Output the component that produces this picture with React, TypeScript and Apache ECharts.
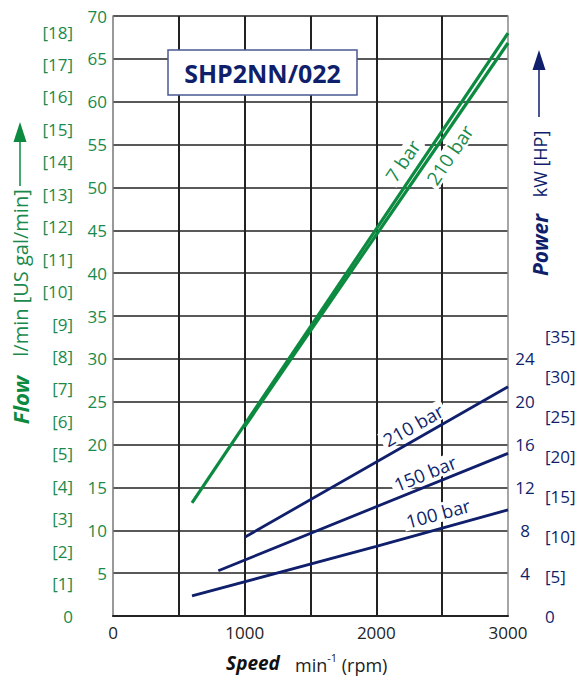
import React, { useEffect, useRef } from "react";
import * as echarts from "echarts";

// ---- data ----
const speedRange = [0, 3000];
const flowRange = [0, 70];
const kwRange = [0, 56];
const LPM_PER_GAL = 3.785;
const KW_PER_HP = 0.7457;

const flow7bar = [
  [600, 13.2],
  [3000, 68.0],
];
const flow210bar = [
  [1000, 22.1],
  [3000, 66.85],
];
const power210bar = [
  [1000, 7.35],
  [3000, 21.4],
];
const power150bar = [
  [800, 4.23],
  [3000, 15.18],
];
const power100bar = [
  [600, 1.87],
  [2000, 6.5],
  [3000, 9.9],
];
const kwTickLabels = [4, 8, 12, 16, 20, 24];
const hpTickLabels = [5, 10, 15, 20, 25, 30, 35];
const galMax = 18;

const GREEN = "#0b8a40";
const GREEN_TXT = "#1a8a4c";
const NAVY = "#101f6c";
const GRID = "#222";
const FONT = "'Open Sans', 'Noto Sans', sans-serif";

export default function App() {
  const ref = useRef<HTMLDivElement>(null);
  useEffect(() => {
    if (!ref.current) return;
    const chart = echarts.init(ref.current, undefined, { renderer: "svg" });
    const isInt = (v: number) => Math.abs(v - Math.round(v)) < 1e-6;
    const txt = (
      text: string,
      x: number,
      y: number,
      deg: number,
      color: string,
      size: number,
      opts: any = {}
    ) => ({
      type: "text",
      x,
      y,
      rotation: (deg * Math.PI) / 180,
      z: 100,
      style: {
        text,
        fill: color,
        fontSize: size,
        fontFamily: FONT,
        align: "center",
        verticalAlign: "middle",
        ...opts,
      },
    });
    const lineLabel = (
      text: string,
      x: number,
      y: number,
      deg: number,
      color: string,
      size: number
    ) =>
      txt(text, x, y, deg, color, size, {
        backgroundColor: "#fff",
        padding: [0, 3],
      });
    chart.setOption({
      animation: false,
      backgroundColor: "#fff",
      grid: { left: 113, right: 71, top: 16, bottom: 61 },
      xAxis: {
        type: "value",
        min: speedRange[0],
        max: speedRange[1],
        interval: 500,
        axisLine: { show: true, lineStyle: { color: GRID, width: 2 } },
        axisTick: { show: false },
        splitLine: {
          show: true,
          showMinLine: false,
          showMaxLine: false,
          lineStyle: { color: GRID, width: 2 },
        },
        axisLabel: {
          color: "#222",
          fontSize: 17,
          fontFamily: FONT,
          margin: 8,
          formatter: (v: number) => (v % 1000 === 0 ? String(v) : ""),
        },
      },
      yAxis: [
        {
          type: "value",
          position: "left",
          min: flowRange[0],
          max: flowRange[1],
          interval: 5,
          axisLine: { show: true, lineStyle: { color: "#777", width: 1.5 } },
          axisTick: { show: false },
          splitLine: {
            show: true,
            lineStyle: { color: GRID, width: 1.5 },
          },
          axisLabel: {
            color: GREEN_TXT,
            fontSize: 17,
            fontFamily: FONT,
            margin: 6,
            formatter: (v: number) => (v === 0 ? "" : String(v)),
          },
        },
        {
          type: "value",
          position: "right",
          min: kwRange[0],
          max: kwRange[1],
          interval: 4,
          axisLine: { show: true, lineStyle: { color: "#888", width: 1.5 } },
          axisTick: { show: false },
          splitLine: { show: false },
          axisLabel: {
            color: NAVY,
            fontSize: 17,
            fontFamily: FONT,
            margin: 17,
            align: "center",
            formatter: (v: number) =>
              kwTickLabels.includes(v) ? String(v) : "",
          },
        },
        {
          type: "value",
          position: "left",
          min: 0,
          max: flowRange[1] / LPM_PER_GAL,
          interval: 1,
          axisLine: { show: false },
          axisTick: { show: false },
          splitLine: { show: false },
          axisLabel: {
            color: GREEN_TXT,
            fontSize: 17,
            fontFamily: FONT,
            margin: 40,
            showMaxLabel: false,
            formatter: (v: number) =>
              !isInt(v) || v > galMax
                ? ""
                : v === 0
                ? "0"
                : `[${Math.round(v)}]`,
          },
        },
        {
          type: "value",
          position: "right",
          min: 0,
          max: kwRange[1] / KW_PER_HP,
          interval: 5,
          axisLine: { show: false },
          axisTick: { show: false },
          splitLine: { show: false },
          axisLabel: {
            color: NAVY,
            fontSize: 17,
            fontFamily: FONT,
            margin: 37,
            showMaxLabel: false,
            formatter: (v: number) =>
              v === 0
                ? "0"
                : hpTickLabels.includes(Math.round(v)) && isInt(v)
                ? `[${Math.round(v)}]`
                : "",
          },
        },
      ],
      series: [
        {
          type: "line",
          yAxisIndex: 0,
          data: flow7bar,
          symbol: "none",
          lineStyle: { color: GREEN, width: 3.2 },
          z: 5,
        },
        {
          type: "line",
          yAxisIndex: 0,
          data: flow210bar,
          symbol: "none",
          lineStyle: { color: GREEN, width: 3.2 },
          z: 5,
        },
        {
          type: "line",
          yAxisIndex: 1,
          data: power210bar,
          symbol: "none",
          lineStyle: { color: NAVY, width: 2.8 },
          z: 5,
        },
        {
          type: "line",
          yAxisIndex: 1,
          data: power150bar,
          symbol: "none",
          lineStyle: { color: NAVY, width: 2.8 },
          z: 5,
        },
        {
          type: "line",
          yAxisIndex: 1,
          data: power100bar,
          symbol: "none",
          lineStyle: { color: NAVY, width: 2.8 },
          z: 5,
        },
      ],
      graphic: [
        lineLabel("7 bar", 403, 161, 56, GREEN_TXT, 19),
        lineLabel("210 bar", 450, 155, 56, GREEN_TXT, 19),
        lineLabel("210 bar", 413, 425, 29.5, NAVY, 18.5),
        lineLabel("150 bar", 425, 473, 22, NAVY, 18.5),
        lineLabel("100 bar", 438, 513, 15, NAVY, 18.5),
        // title box
        {
          type: "rect",
          shape: { x: 168, y: 50, width: 189, height: 45 },
          style: { fill: "#fff", stroke: "#4a5894", lineWidth: 1.5 },
          z: 100,
        },
        txt("SHP2NN/022", 262.5, 73, 0, NAVY, 25, { fontWeight: "bold" }),
        // left axis title
        txt("Flow", 20, 400, 90, GREEN, 22, {
          fontWeight: "bold",
          fontStyle: "italic",
        }),
        txt("l/min [US gal/min]", 20, 273, 90, GREEN_TXT, 20),
        {
          type: "line",
          shape: { x1: 20, y1: 186, x2: 20, y2: 140 },
          style: { stroke: GREEN, lineWidth: 1.5 },
        },
        {
          type: "polygon",
          shape: {
            points: [
              [20, 122],
              [13.5, 142],
              [26.5, 142],
            ],
          },
          style: { fill: GREEN },
        },
        // right axis title
        txt("Power", 540, 245, 90, NAVY, 21, {
          fontWeight: "bold",
          fontStyle: "italic",
        }),
        txt("kW [HP]", 540, 164, 90, NAVY, 18),
        {
          type: "line",
          shape: { x1: 539, y1: 117, x2: 539, y2: 68 },
          style: { stroke: NAVY, lineWidth: 1.5 },
        },
        {
          type: "polygon",
          shape: {
            points: [
              [539, 50],
              [532.5, 70],
              [545.5, 70],
            ],
          },
          style: { fill: NAVY },
        },
        // x axis title
        txt("Speed", 253, 663, 0, "#111", 19, {
          fontWeight: "bold",
          fontStyle: "italic",
        }),
        {
          type: "text",
          x: 295,
          y: 663,
          z: 100,
          style: {
            text: "{n|min}{s|-1}{n| (rpm)}",
            align: "left",
            verticalAlign: "middle",
            rich: {
              n: {
                fill: "#222",
                fontSize: 18,
                fontFamily: FONT,
                lineHeight: 22,
                verticalAlign: "bottom",
              },
              s: {
                fill: "#222",
                fontSize: 11,
                fontFamily: FONT,
                verticalAlign: "top",
                lineHeight: 22,
              },
            },
          },
        },
      ],
    });
    return () => chart.dispose();
  }, []);
  return (
    <div
      ref={ref}
      style={{
        position: "absolute",
        left: 0,
        top: 0,
        width: 579,
        height: 677,
      }}
    />
  );
}
